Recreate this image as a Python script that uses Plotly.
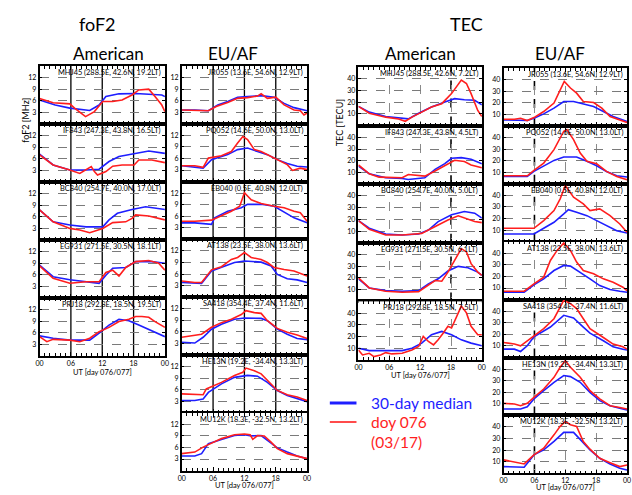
import plotly.graph_objects as go

# ---------------- data ----------------
BLUE = "#1e1eff"
RED = "#ff1e1e"

fof2_ticks = [3, 6, 9, 12]
tec_ticks = [10, 20, 30, 40]
ut_tickvals = [0, 6, 12, 18, 24]
ut_ticktext = ["00", "06", "12", "18", "00"]
fof2_vlines = [6, 12, 18]

fof2_am_labels = [
    "MHJ45 (288.5E, 42.6N, 19.2LT)",
    "IF843 (247.3E, 43.8N, 16.5LT)",
    "BC840 (254.7E, 40.0N, 17.0LT)",
    "EG931 (271.5E, 30.5N, 18.1LT)",
    "PRJ18 (292.8E, 18.5N, 19.5LT)",
]
fof2_eu_labels = [
    "JR055 (13.6E, 54.6N, 12.9LT)",
    "PQ052 (14.6E, 50.0N, 13.0LT)",
    "EB040 (0.5E, 40.8N, 12.0LT)",
    "AT138 (23.5E, 38.0N, 13.6LT)",
    "SA418 (354.4E, 37.4N, 11.6LT)",
    "HE13N (19.2E, -34.4N, 13.3LT)",
    "MU12K (18.3E, -32.5N, 13.2LT)",
]
tec_am_labels = [
    "MHJ45 (288.5E, 42.6N, 7.2LT)",
    "IF843 (247.3E, 43.8N, 4.5LT)",
    "BC840 (254.7E, 40.0N, 5.0LT)",
    "EG931 (271.5E, 30.5N, 6.1LT)",
    "PRJ18 (292.8E, 18.5N, 7.5LT)",
]
tec_eu_labels = fof2_eu_labels

# foF2 American (MHz)
fof2_am_med_h = [
    [0, 3.0, 5.8, 9.6, 11.4, 12.7, 15.2, 18.4, 23.4, 24],
    [0, 2.6, 5.8, 8.9, 11.4, 13.3, 15.2, 18.4, 20.9, 24],
    [0, 2.6, 5.8, 8.9, 12.1, 13.3, 14.9, 17.7, 20.3, 24],
    [0, 2.6, 5.8, 8.9, 11.4, 12.7, 14.0, 16.5, 18.4, 21.5, 24],
    [0, 2.6, 5.8, 9.6, 11.4, 13.3, 15.2, 17.1, 19.0, 21.5, 24],
]
fof2_am_med_v = [
    [6.2, 4.9, 4.1, 3.5, 4.9, 7.1, 7.8, 7.9, 7.5, 7.1],
    [7.2, 4.4, 3.1, 3.1, 3.3, 5.3, 6.6, 7.4, 8.0, 7.4],
    [7.8, 4.7, 3.9, 3.4, 3.4, 5.2, 6.9, 7.9, 8.6, 7.9],
    [8.5, 5.5, 4.7, 4.2, 3.8, 5.9, 7.7, 7.9, 9.4, 9.4, 9.0],
    [5.2, 4.6, 4.1, 4.1, 5.9, 8.0, 9.5, 9.1, 8.0, 6.6, 5.0],
]
fof2_am_doy_h = [
    [0, 2.6, 5.8, 6.7, 8.8, 10.5, 12.1, 14.0, 15.8, 17.7, 19.0, 20.9, 22.1, 23.4, 24],
    [0, 2.6, 5.8, 7.7, 9.9, 10.5, 11.1, 12.7, 14.0, 15.8, 18.1, 19.0, 21.5, 24],
    [0, 2.6, 5.8, 7.7, 9.6, 12.1, 14.0, 16.5, 17.7, 18.4, 20.9, 24],
    [0, 2.6, 5.8, 8.9, 11.4, 12.7, 14.0, 15.2, 16.5, 18.4, 20.9, 22.8, 24],
    [0, 1.4, 2.6, 5.8, 7.7, 9.6, 11.4, 13.3, 15.2, 17.1, 18.4, 19.6, 20.9, 22.1, 24],
]
fof2_am_doy_v = [
    [6.6, 5.5, 5.2, 4.1, 1.9, 3.2, 5.8, 5.8, 6.2, 7.5, 8.8, 9.0, 7.1, 4.9, 3.2],
    [7.0, 4.4, 3.1, 2.2, 4.0, 2.7, 1.8, 2.7, 4.1, 4.4, 4.4, 5.7, 5.7, 5.0],
    [7.8, 4.7, 3.0, 2.6, 1.9, 3.0, 4.5, 4.7, 5.6, 6.5, 6.2, 5.2],
    [8.3, 5.1, 3.8, 4.2, 4.2, 6.6, 7.2, 5.7, 7.9, 9.4, 9.7, 9.0, 7.2],
    [5.0, 3.7, 4.3, 4.1, 3.7, 4.6, 6.3, 7.4, 8.9, 9.5, 10.2, 10.2, 10.0, 8.9, 7.4],
]

# foF2 EU/AF (MHz)
fof2_eu_med_h = [
    [0, 2.5, 5.1, 6.9, 8.8, 10.7, 12.6, 15.2, 17.7, 19.6, 21.5, 24],
    [0, 2.5, 4.1, 5.7, 8.8, 10.7, 12.6, 14.5, 16.4, 18.3, 20.2, 22.1, 24],
    [0, 2.5, 5.7, 6.3, 8.8, 11.4, 12.6, 15.2, 17.7, 20.2, 21.5, 24],
    [0, 3.8, 5.7, 7.6, 10.1, 12.0, 15.2, 17.1, 18.3, 20.2, 22.1, 24],
    [0, 2.5, 4.1, 5.7, 7.6, 10.1, 12.0, 15.2, 16.4, 18.3, 20.2, 22.1, 24],
    [0, 2.5, 4.1, 5.1, 7.6, 10.1, 12.6, 14.5, 16.4, 18.3, 20.2, 22.1, 24],
    [0, 2.5, 3.8, 5.1, 7.6, 10.1, 12.0, 13.3, 15.2, 16.4, 18.3, 20.2, 22.1, 24],
]
fof2_eu_med_v = [
    [3.6, 3.6, 3.4, 4.9, 5.8, 6.9, 7.1, 7.3, 6.9, 5.3, 4.2, 3.4],
    [4.1, 3.7, 3.5, 5.7, 7.0, 8.3, 8.7, 7.8, 7.0, 5.7, 4.7, 4.0, 3.8],
    [4.3, 4.3, 3.9, 5.6, 7.3, 8.2, 9.1, 9.1, 8.6, 6.5, 5.6, 4.3],
    [3.8, 3.6, 6.8, 7.7, 9.0, 9.4, 9.1, 8.1, 5.9, 4.8, 4.5, 3.8],
    [3.3, 3.1, 4.6, 6.7, 8.0, 9.3, 9.6, 9.5, 8.9, 6.7, 5.4, 4.3, 4.0],
    [3.2, 3.2, 3.6, 5.3, 7.5, 9.2, 9.7, 9.5, 7.9, 5.8, 4.5, 3.6, 2.9],
    [3.8, 3.8, 4.4, 7.0, 8.1, 9.1, 9.3, 9.0, 9.1, 7.8, 5.9, 4.8, 3.8, 3.1],
]
fof2_eu_doy_h = [
    [0, 5.1, 6.6, 8.8, 10.7, 12.6, 14.5, 15.2, 16.4, 18.0, 19.6, 21.5, 22.7, 23.4, 24],
    [0, 2.5, 4.1, 5.1, 7.6, 9.5, 10.7, 11.7, 12.6, 13.9, 15.2, 16.4, 18.3, 20.2, 21.2, 22.7, 24],
    [0, 2.5, 5.7, 7.3, 9.5, 11.1, 12.0, 13.3, 15.2, 17.7, 19.6, 21.5, 22.7, 24],
    [0, 2.5, 3.8, 5.7, 7.6, 9.5, 10.7, 12.0, 13.3, 15.2, 16.4, 17.7, 19.6, 21.5, 24],
    [0, 2.5, 3.8, 5.7, 7.6, 9.5, 11.4, 12.3, 13.9, 15.2, 16.4, 18.3, 20.2, 22.1, 24],
    [0, 2.5, 4.1, 4.7, 7.6, 10.1, 11.7, 12.3, 13.9, 15.2, 16.4, 18.3, 20.2, 22.1, 24],
    [0, 2.5, 4.1, 5.7, 7.6, 10.1, 12.0, 13.1, 13.6, 14.5, 15.8, 17.1, 18.3, 20.2, 22.1, 24],
]
fof2_eu_doy_v = [
    [3.6, 3.4, 4.5, 5.5, 6.6, 6.8, 7.2, 7.8, 6.6, 6.9, 4.9, 3.6, 3.4, 2.3, 2.8],
    [4.1, 4.1, 3.7, 6.1, 6.7, 7.8, 10.0, 11.7, 10.9, 8.3, 7.8, 7.0, 5.7, 4.4, 2.9, 3.5, 3.1],
    [4.7, 4.7, 5.0, 5.9, 7.3, 8.6, 12.1, 10.3, 9.3, 8.6, 8.2, 7.3, 6.9, 4.7],
    [4.2, 3.8, 3.8, 7.1, 7.9, 9.8, 10.3, 11.6, 10.3, 9.8, 9.0, 7.7, 7.2, 6.8, 5.5],
    [4.6, 5.0, 5.4, 7.2, 8.4, 9.3, 10.5, 11.5, 11.0, 10.8, 8.9, 6.9, 5.9, 5.2, 4.3],
    [4.9, 4.7, 4.7, 6.2, 7.9, 9.7, 10.5, 11.6, 10.9, 10.1, 8.4, 5.8, 4.7, 4.1, 3.2],
    [4.4, 4.8, 6.1, 7.2, 8.3, 9.3, 9.5, 9.3, 8.1, 9.1, 9.0, 7.4, 5.7, 4.4, 3.8, 3.1],
]

# TEC American (TECU)
tec_am_med_h = [
    [0, 2.1, 5.3, 7.8, 9.7, 11.7, 14.2, 16.8, 18.7, 20.6, 22.6, 24],
    [0, 2.1, 5.3, 8.5, 9.7, 11.7, 12.9, 14.9, 16.8, 18.1, 20.0, 21.9, 24],
    [0, 2.1, 5.3, 8.5, 11.7, 13.6, 15.5, 18.1, 20.6, 22.6, 24],
    [0, 2.1, 5.3, 8.5, 11.7, 13.6, 15.5, 17.4, 19.4, 21.3, 23.2, 24],
    [0, 2.1, 5.3, 8.5, 10.4, 12.3, 14.2, 16.2, 18.1, 20.0, 21.9, 24],
]
tec_am_med_v = [
    [16.4, 11.5, 7.8, 6.6, 5.7, 10.6, 15.8, 20.1, 23.0, 22.1, 21.6, 17.8],
    [15.5, 8.9, 5.5, 4.9, 4.0, 4.9, 5.5, 12.6, 17.5, 22.1, 22.7, 21.3, 17.5],
    [19.0, 12.4, 7.5, 6.6, 7.5, 10.9, 18.1, 23.9, 26.7, 25.3, 21.0],
    [19.3, 11.5, 9.2, 8.6, 9.2, 14.9, 19.3, 25.9, 29.9, 28.7, 25.0, 22.1],
    [10.1, 8.0, 8.0, 8.0, 10.1, 14.4, 21.6, 24.4, 21.6, 17.2, 14.4, 12.1],
]
tec_am_doy_h = [
    [0, 2.1, 5.3, 7.8, 9.1, 10.4, 12.3, 14.2, 16.2, 18.1, 20.0, 21.0, 21.9, 23.2, 24],
    [0, 2.1, 4.0, 6.5, 8.5, 9.7, 11.7, 12.9, 14.9, 16.8, 18.7, 20.6, 21.9, 24],
    [0, 2.1, 5.3, 8.5, 11.0, 12.3, 13.6, 15.5, 17.4, 19.4, 21.3, 22.6, 24],
    [0, 2.1, 5.3, 8.5, 11.7, 13.6, 14.9, 16.2, 17.4, 18.7, 20.0, 21.0, 21.9, 23.2, 24],
    [0, 0.8, 2.1, 3.0, 4.3, 5.3, 6.5, 8.5, 10.4, 11.7, 12.6, 13.6, 14.6, 15.5, 16.5,
     17.4, 18.1, 19.4, 20.0, 21.0, 21.9, 23.2, 24],
]
tec_am_doy_v = [
    [16.4, 10.6, 7.2, 5.7, 3.7, 7.2, 11.5, 15.8, 18.7, 27.3, 38.8, 35.9, 27.3, 12.9, 7.8],
    [16.4, 8.9, 6.0, 6.0, 5.5, 8.3, 7.5, 6.9, 11.2, 15.5, 20.4, 19.3, 16.4, 14.1],
    [19.0, 11.5, 6.6, 6.6, 7.5, 8.0, 10.9, 15.2, 19.5, 23.0, 20.1, 18.1, 17.2],
    [20.1, 11.5, 8.6, 7.8, 8.3, 13.5, 17.8, 17.2, 25.0, 35.0, 45.1, 42.2, 32.2, 25.0, 22.1],
    [8.6, 4.3, 5.7, 2.9, 4.3, 6.3, 5.2, 5.7, 8.6, 11.5, 20.1, 15.8, 12.9, 17.2, 23.0,
     28.7, 27.3, 40.2, 46.0, 40.2, 28.7, 21.6, 21.6],
]

# TEC EU/AF (TECU)
tec_eu_med_h = [
    [0, 2.7, 4.6, 5.9, 7.8, 9.8, 11.7, 13.6, 15.5, 17.5, 19.4, 21.3, 23.2, 24],
    [0, 4.6, 5.9, 7.8, 9.8, 11.7, 14.2, 16.2, 18.1, 20.0, 22.0, 24],
    [0, 5.9, 7.8, 9.8, 11.7, 12.6, 14.2, 16.2, 18.1, 20.0, 22.0, 24],
    [0, 4.0, 5.9, 7.8, 9.8, 11.7, 13.0, 14.9, 16.8, 18.7, 20.7, 22.6, 24],
    [0, 2.1, 3.3, 4.6, 5.9, 9.1, 11.7, 13.6, 15.5, 16.8, 19.4, 21.3, 23.2, 24],
    [0, 3.3, 4.6, 5.9, 7.8, 9.8, 11.7, 13.0, 14.9, 16.8, 18.7, 20.7, 22.6, 24],
    [0, 2.1, 4.0, 5.9, 7.8, 9.8, 11.7, 13.6, 14.9, 16.8, 18.7, 20.7, 22.6, 24],
]
tec_eu_med_v = [
    [5.2, 5.2, 4.6, 6.6, 10.4, 15.3, 21.1, 21.1, 19.1, 16.8, 12.4, 8.1, 5.2, 3.8],
    [6.4, 6.4, 10.7, 15.0, 20.2, 23.1, 23.1, 19.4, 15.6, 10.7, 6.9, 5.8],
    [6.6, 6.6, 11.6, 16.8, 24.0, 27.7, 25.4, 22.5, 18.2, 13.9, 9.5, 7.5],
    [6.4, 6.4, 12.7, 17.9, 25.1, 29.5, 28.9, 23.7, 17.9, 12.1, 8.7, 7.2, 6.4],
    [7.2, 7.2, 5.2, 10.1, 17.9, 26.3, 36.4, 34.1, 26.3, 21.0, 14.5, 9.2, 7.2, 6.4],
    [5.5, 5.5, 7.5, 14.2, 21.4, 28.6, 34.4, 33.5, 28.6, 19.9, 12.7, 8.4, 6.1, 4.6],
    [5.8, 5.8, 5.2, 15.9, 20.2, 27.5, 35.3, 35.3, 28.9, 20.2, 13.0, 8.1, 4.3, 2.9],
]
tec_eu_doy_h = [
    [0, 2.1, 3.3, 4.6, 5.9, 7.8, 9.8, 11.0, 11.8, 13.0, 14.2, 15.5, 17.5, 19.1, 20.7, 22.6, 24],
    [0, 4.6, 5.9, 7.8, 9.8, 11.7, 12.3, 13.6, 14.9, 16.2, 18.1, 20.0, 22.0, 24],
    [0, 5.9, 7.8, 9.8, 11.0, 12.0, 13.6, 15.5, 16.8, 18.7, 20.7, 22.6, 24],
    [0, 4.0, 5.9, 7.8, 9.1, 10.4, 11.7, 13.0, 14.2, 15.5, 17.5, 19.4, 21.3, 23.2, 24],
    [0, 2.1, 3.3, 4.6, 5.9, 7.8, 9.8, 11.7, 13.0, 14.2, 15.5, 16.8, 19.4, 21.3, 23.2, 24],
    [0, 2.1, 3.3, 4.6, 5.9, 7.8, 9.8, 11.0, 12.0, 13.0, 14.9, 16.8, 18.7, 20.7, 22.6, 24],
    [0, 2.1, 4.0, 5.9, 7.8, 9.8, 11.0, 12.0, 13.0, 14.2, 15.5, 16.8, 18.7, 20.7, 22.6, 24],
]
tec_eu_doy_v = [
    [5.8, 5.8, 6.6, 4.6, 7.2, 12.4, 19.7, 31.2, 38.4, 32.7, 28.3, 21.1, 20.2, 15.3, 8.1, 5.2, 2.9],
    [6.9, 6.9, 11.6, 17.9, 29.5, 45.4, 46.8, 38.2, 26.6, 19.4, 17.3, 10.7, 6.4, 3.5],
    [11.6, 11.6, 18.2, 26.9, 37.0, 48.6, 38.4, 32.7, 26.9, 28.3, 22.5, 15.3, 8.1],
    [7.2, 7.2, 13.6, 19.4, 33.8, 42.5, 49.0, 42.5, 32.4, 25.1, 22.3, 17.9, 15.0, 10.7, 7.8],
    [13.0, 11.6, 10.1, 14.5, 18.8, 24.9, 33.5, 49.4, 46.5, 42.2, 33.5, 24.9, 17.3, 11.6, 9.2, 7.2],
    [10.4, 9.8, 8.4, 10.4, 15.6, 22.8, 32.9, 41.6, 47.4, 41.6, 32.9, 21.4, 14.2, 8.4, 6.9, 5.5],
    [11.6, 10.1, 8.1, 15.9, 21.7, 33.2, 40.5, 44.8, 41.9, 40.5, 27.5, 20.8, 13.0, 9.2, 5.8, 7.2],
]

# ---------------- layout ----------------
W, H = 632, 495
FONT = "Lato, Open Sans, sans-serif"


def px(x):
    return x / W


def py(y):
    return 1 - y / H


columns = [
    dict(labels=fof2_am_labels, mh=fof2_am_med_h, mv=fof2_am_med_v, dh=fof2_am_doy_h, dv=fof2_am_doy_v,
         left=36, right=163, top=66, ph=58.0, yr=[0, 15], yt=fof2_ticks, kind="fof2", mark=None, utoff=16),
    dict(labels=fof2_eu_labels, mh=fof2_eu_med_h, mv=fof2_eu_med_v, dh=fof2_eu_doy_h, dv=fof2_eu_doy_v,
         left=180, right=307, top=66, ph=57.8, yr=[0, 15], yt=fof2_ticks, kind="fof2", mark=None, utoff=15),
    dict(labels=tec_am_labels, mh=tec_am_med_h, mv=tec_am_med_v, dh=tec_am_doy_h, dv=tec_am_doy_v,
         left=359, right=484, top=67, ph=58.6, yr=[0, 50], yt=tec_ticks, kind="tec", mark=18, utoff=15),
    dict(labels=tec_eu_labels, mh=tec_eu_med_h, mv=tec_eu_med_v, dh=tec_eu_doy_h, dv=tec_eu_doy_v,
         left=506, right=631, top=68, ph=57.9, yr=[0, 50], yt=tec_ticks, kind="tec", mark=6, utoff=14),
]

fig = go.Figure()
layout = {}
annotations = []
shapes = []
k = 0
for col in columns:
    n = len(col["labels"])
    for i in range(n):
        k += 1
        sx = "" if k == 1 else str(k)
        xa, ya = "x" + sx, "y" + sx
        fig.add_trace(go.Scatter(x=col["mh"][i], y=col["mv"][i], xaxis=xa, yaxis=ya, mode="lines",
                                 line=dict(color=BLUE, width=1.6), showlegend=False, hoverinfo="skip"))
        fig.add_trace(go.Scatter(x=col["dh"][i], y=col["dv"][i], xaxis=xa, yaxis=ya, mode="lines",
                                 line=dict(color=RED, width=1.6), showlegend=False, hoverinfo="skip"))
        y_top = col["top"] + i * col["ph"]
        y_bot = y_top + col["ph"]
        last = i == n - 1
        if col["kind"] == "fof2":
            xgrid = dict(showgrid=False)
            for v in fof2_vlines:
                shapes.append(dict(type="line", xref=xa, yref=ya + " domain", x0=v, x1=v, y0=0, y1=1,
                                   layer="below", line=dict(color="black", width=1.3)))
        else:
            xgrid = dict(showgrid=True, gridcolor="#8a8a8a", gridwidth=1, griddash="dash")
        layout["xaxis" + sx] = dict(
            domain=[px(col["left"]), px(col["right"])], anchor=ya, range=[0, 24],
            tickmode="array", tickvals=ut_tickvals, ticktext=ut_ticktext,
            showticklabels=last, ticks="inside", ticklen=4, tickcolor="black",
            minor=dict(tickmode="linear", tick0=0, dtick=1, ticks="inside", ticklen=3,
                       tickcolor="black", showgrid=False),
            showline=True, linecolor="black", linewidth=1.5, mirror="ticks",
            tickfont=dict(size=7, color="black", family=FONT), zeroline=False, **xgrid)
        layout["yaxis" + sx] = dict(
            domain=[py(y_bot), py(y_top)], anchor=xa, range=col["yr"],
            tickmode="array", tickvals=col["yt"], ticks="inside", ticklen=3, tickcolor="black",
            showline=True, linecolor="black", linewidth=1.5, mirror="ticks",
            showgrid=True, gridcolor="#7a7a7a", gridwidth=1, griddash="dash",
            tickfont=dict(size=7, color="black", family=FONT), zeroline=False)
        annotations.append(dict(xref=xa + " domain", yref=ya + " domain", x=0.985, y=1.0,
                                xanchor="right", yanchor="top", showarrow=False,
                                text=col["labels"][i], font=dict(size=7.4, color="black", family=FONT)))
        if col["mark"] is not None:
            shapes.append(dict(type="line", xref=xa, yref=ya + " domain", x0=col["mark"], x1=col["mark"],
                               y0=0, y1=1, layer="below", line=dict(color="black", width=1.6, dash="dash")))
    # UT axis title
    annotations.append(dict(xref="paper", yref="paper", x=px((col["left"] + col["right"]) / 2),
                            y=py(col["top"] + n * col["ph"] + col["utoff"]), xanchor="center", yanchor="middle",
                            showarrow=False, text="UT [day 076/077]",
                            font=dict(size=7.5, color="black", family=FONT)))

# Titles
titles = [
    ("foF2", 95, 24, 18), ("TEC", 468, 24, 18),
    ("American", 106, 53, 17), ("EU/AF", 232, 53, 17),
    ("American", 422, 53, 17), ("EU/AF", 563, 53, 17),
]
for txt, x, y, s in titles:
    annotations.append(dict(xref="paper", yref="paper", x=px(x), y=py(y), xanchor="center",
                            yanchor="middle", showarrow=False, text=txt,
                            font=dict(size=s, color="black", family=FONT)))

# Y-axis titles
annotations.append(dict(xref="paper", yref="paper", x=px(14), y=py(96), textangle=-90, showarrow=False,
                        text="foF2 [MHz]", font=dict(size=9, color="black", family=FONT)))
annotations.append(dict(xref="paper", yref="paper", x=px(340), y=py(97), textangle=-90, showarrow=False,
                        text="TEC [TECU]", font=dict(size=9, color="black", family=FONT)))

# Legend
shapes.append(dict(type="line", xref="paper", yref="paper", x0=px(330), x1=px(357), y0=py(403), y1=py(403),
                   line=dict(color=BLUE, width=3)))
shapes.append(dict(type="line", xref="paper", yref="paper", x0=px(330), x1=px(357), y0=py(422), y1=py(422),
                   line=dict(color=RED, width=1.6)))
for txt, y, c in [("30-day median", 403, BLUE), ("doy 076", 422, RED), ("(03/17)", 442, RED)]:
    annotations.append(dict(xref="paper", yref="paper", x=px(370), y=py(y), xanchor="left", yanchor="middle",
                            showarrow=False, text=txt, font=dict(size=15.5, color=c, family=FONT)))

fig.update_layout(width=W, height=H, margin=dict(l=0, r=0, t=0, b=0), plot_bgcolor="white",
                  paper_bgcolor="white", showlegend=False, annotations=annotations, shapes=shapes, **layout)
fig.write_html("out.html")
